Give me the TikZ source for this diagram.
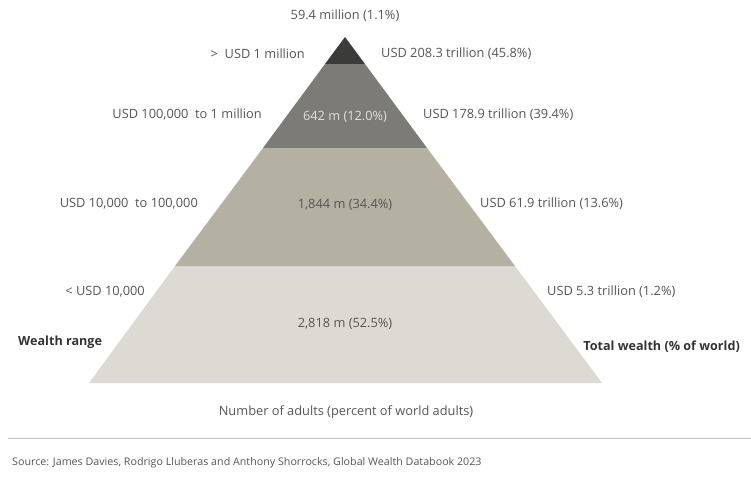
\documentclass[tikz,border=0pt]{standalone}
\usepackage{fontspec}
\setmainfont{Open Sans}
\definecolor{bandA}{HTML}{3B3B39}
\definecolor{bandB}{HTML}{7C7B75}
\definecolor{bandC}{HTML}{B4B0A2}
\definecolor{bandD}{HTML}{DDDAD3}
\definecolor{txt}{HTML}{555555}
\definecolor{boldtxt}{HTML}{333333}
\tikzset{
  lbl/.style={font=\fontsize{12.8}{14}\selectfont, text=txt, inner sep=0pt, yshift=-1.5pt},
  lblL/.style={lbl, anchor=east},
  lblR/.style={lbl, anchor=west},
  inner/.style={lbl},
  hdr/.style={font=\fontsize{12.6}{14}\selectfont\bfseries, text=boldtxt, inner sep=0pt, yshift=-1.5pt},
}
\begin{document}
\begin{tikzpicture}[x=1pt,y=-1pt]
\useasboundingbox (0,0) rectangle (751,486);
% pyramid geometry
\coordinate (apex) at (345,37);
\coordinate (l1) at (325,64);  \coordinate (r1) at (365,64);
\coordinate (l2) at (263,148); \coordinate (r2) at (427,148);
\coordinate (l3) at (175,266); \coordinate (r3) at (515,266);
\coordinate (l4) at (89,383);  \coordinate (r4) at (602,383);
\fill[bandD] (l3) -- (r3) -- (r4) -- (l4) -- cycle;
\fill[bandC] (l2) -- (r2) -- (r3) -- (l3) -- cycle;
\fill[bandB] (l1) -- (r1) -- (r2) -- (l2) -- cycle;
\fill[bandA] (apex) -- (r1) -- (l1) -- cycle;
% labels
\node[lbl] (top) at (345,14) {59.4 million (1.1\%)};
\node[lblL] (wr1) at (305,52) {>\ \ USD 1 million};
\node[lblR] (tw1) at (381,52) {USD 208.3 trillion (45.8\%)};
\node[lblL] (wr2) at (262,113) {USD 100,000\ \ to 1 million};
\node[inner, text=white!88!black] (n2) at (345,115) {642 m (12.0\%)};
\node[lblR] (tw2) at (423,113) {USD 178.9 trillion (39.4\%)};
\node[lblL] (wr3) at (198,202) {USD 10,000\ \ to 100,000};
\node[inner] (n3) at (345,203) {1,844 m (34.4\%)};
\node[lblR] (tw3) at (480,202) {USD 61.9 trillion (13.6\%)};
\node[lblL] (wr4) at (145,290) {< USD 10,000};
\node[inner] (n4) at (345,322) {2,818 m (52.5\%)};
\node[lblR] (tw4) at (547,290) {USD 5.3 trillion (1.2\%)};
\node[hdr, anchor=west] (wrh) at (18,341) {Wealth range};
\node[hdr, anchor=east] (twh) at (740,345) {Total wealth (\% of world)};
\node[lbl] (axis) at (346,411) {Number of adults (percent of world adults)};
\draw[black!25, line width=1pt] (8,438) -- (751,438);
\node[lbl, anchor=west, font=\fontsize{10.5}{12}\selectfont] (src) at (12,461) {\scalebox{1.02}[1]{Source: James Davies, Rodrigo Lluberas and Anthony Shorrocks, Global Wealth Databook 2023}};
\end{tikzpicture}
\end{document}
